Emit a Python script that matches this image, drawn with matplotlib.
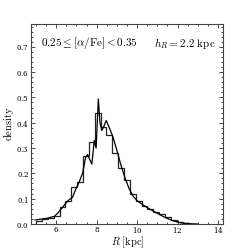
import numpy as np
import matplotlib
matplotlib.use("Agg")
import matplotlib.pyplot as plt
from matplotlib.ticker import MultipleLocator

plt.rcParams['mathtext.fontset'] = 'cm'
plt.rcParams['font.family'] = 'serif'
plt.rcParams['font.serif'] = ['DejaVu Serif']
plt.rcParams['axes.formatter.use_mathtext'] = True

# histogram: bin edges and heights
bin_edges = np.round(5.0 + 0.29 * np.arange(28), 3)
bin_heights = [0.010, 0.020, 0.022, 0.033, 0.068, 0.090, 0.145, 0.165,
               0.268, 0.325, 0.440, 0.385, 0.350, 0.280, 0.222, 0.174,
               0.120, 0.091, 0.072, 0.058, 0.047, 0.038, 0.027, 0.016,
               0.007, 0.003, 0.001]

# smooth density estimate
curve_R = [4.95, 5.5, 5.9, 6.1, 6.3, 6.5, 6.65, 6.8, 6.95, 7.1, 7.3, 7.45,
           7.55, 7.65, 7.76, 7.88, 7.97, 8.08, 8.16, 8.25, 8.35, 8.47,
           8.6, 8.8, 9.0, 9.2, 9.4, 9.6, 9.8, 10.0, 10.3, 10.6, 11.0,
           11.4, 11.8, 12.2, 12.6, 13.0]
curve_d = [0.016, 0.022, 0.030, 0.045, 0.065, 0.085, 0.097, 0.105, 0.135,
           0.160, 0.200, 0.262, 0.275, 0.255, 0.237, 0.330, 0.300, 0.494,
           0.400, 0.369, 0.385, 0.409, 0.385, 0.345, 0.290, 0.232, 0.182,
           0.140, 0.110, 0.092, 0.075, 0.060, 0.042, 0.025, 0.012, 0.004,
           0.001, 0.0]

fig = plt.figure(figsize=(2.49, 2.49), dpi=100)
ax = fig.add_axes([0.1245, 0.1004, 0.7715, 0.8032])

ax.stairs(bin_heights, bin_edges, color='#222222', lw=0.9)
ax.plot(curve_R, curve_d, color='black', lw=0.9)

ax.set_xlim(4.75, 14.25)
ax.set_ylim(0.0, 0.79)
ax.xaxis.set_major_locator(MultipleLocator(2))
ax.xaxis.set_minor_locator(MultipleLocator(0.5))
ax.yaxis.set_major_locator(MultipleLocator(0.1))
ax.yaxis.set_minor_locator(MultipleLocator(0.02))
ax.tick_params(which='both', direction='in', top=True, right=True,
               labelsize=5, width=0.5, pad=1.5)
ax.tick_params(axis='x', pad=1)
ax.tick_params(which='major', length=3)
ax.tick_params(which='minor', length=1.5)
for s in ax.spines.values():
    s.set_linewidth(0.8)
    s.set_color('#444444')

ax.set_xlabel(r'$R\ [\mathrm{kpc}]$', fontsize=7.5)
ax.set_ylabel(r'$\mathrm{density}$', fontsize=7.5)
ax.xaxis.set_label_coords(0.505, -0.054)
ax.yaxis.set_label_coords(-0.08, 0.5)

ax.text(0.05, 0.905, r'$0.25 \leq [\alpha/\mathrm{Fe}] < 0.35$',
        transform=ax.transAxes, fontsize=8, va='center', ha='left')
ax.text(0.96, 0.905, r'$h_R = 2.2\ \mathrm{kpc}$',
        transform=ax.transAxes, fontsize=8, va='center', ha='right')

fig.savefig('out.png', dpi=100)
